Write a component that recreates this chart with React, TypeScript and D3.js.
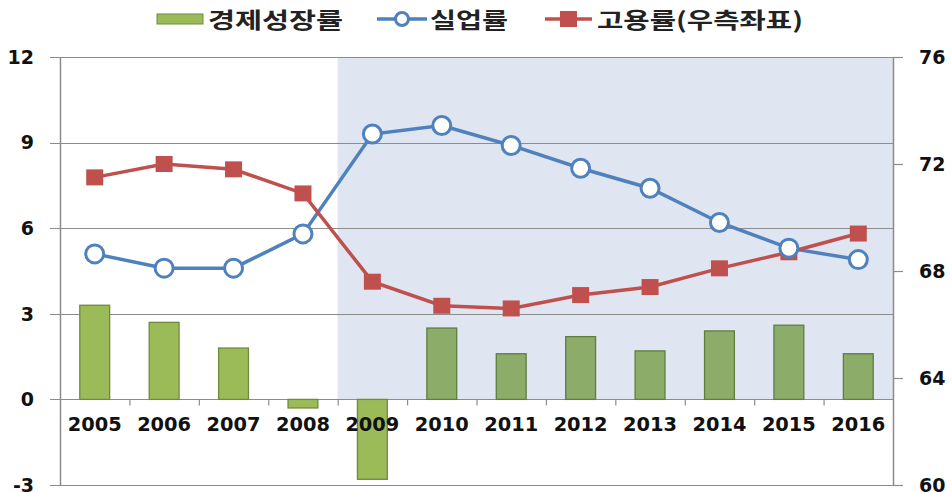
import React, { useEffect, useRef } from 'react';
import * as d3 from 'd3';

const years = ['2005', '2006', '2007', '2008', '2009', '2010', '2011', '2012', '2013', '2014', '2015', '2016'];
const growth = [3.3, 2.7, 1.8, -0.3, -2.8, 2.5, 1.6, 2.2, 1.7, 2.4, 2.6, 1.6];
const unemployment = [5.1, 4.6, 4.6, 5.8, 9.3, 9.6, 8.9, 8.1, 7.4, 6.2, 5.3, 4.9];
const employment = [71.5, 72.0, 71.8, 70.9, 67.6, 66.7, 66.6, 67.1, 67.4, 68.1, 68.7, 69.4];
const leftTicks = [-3, 0, 3, 6, 9, 12];
const rightTicks = [60, 64, 68, 72, 76];
const shadeFrom = '2009';
const legendLabels = ['경제성장률', '실업률', '고용률(우측좌표)'];

const W = 952;
const H = 492;
const margin = { top: 57, right: 59, bottom: 7, left: 60 };

const numFont = '"DejaVu Sans", Verdana, sans-serif';
const krFont = '"Noto Sans CJK KR", "Noto Sans", sans-serif';

const App = () => {
  const svgRef = useRef(null);

  useEffect(() => {
    const svg = d3.select(svgRef.current);
    svg.selectAll('*').remove();

    const x = d3.scaleBand().domain(years).range([margin.left, W - margin.right]).paddingInner(0.57).paddingOuter(0.285);
    const band = d3.scaleBand().domain(years).range([margin.left, W - margin.right]);
    const y = d3.scaleLinear().domain([-3, 12]).range([H - margin.bottom, margin.top]);
    const y2 = d3.scaleLinear().domain([60, 76]).range([H - margin.bottom, margin.top]);
    const cx = (d) => band(d) + band.bandwidth() / 2;

    // shaded period (2009~)
    svg.append('rect')
      .attr('x', band(shadeFrom))
      .attr('y', y(12))
      .attr('width', W - margin.right - band(shadeFrom))
      .attr('height', y(0) - y(12))
      .attr('fill', '#dfe6f1');

    // gridlines
    svg.append('g')
      .selectAll('line')
      .data(leftTicks)
      .join('line')
      .attr('x1', margin.left - 10)
      .attr('x2', W - margin.right)
      .attr('y1', d => Math.round(y(d)) + 0.5)
      .attr('y2', d => Math.round(y(d)) + 0.5)
      .attr('stroke', '#8c8c8c')
      .attr('stroke-width', 1.2);

    // bars
    const shadeIdx = years.indexOf(shadeFrom);
    svg.append('g')
      .selectAll('rect')
      .data(growth)
      .join('rect')
      .attr('x', (d, i) => x(years[i]))
      .attr('width', x.bandwidth())
      .attr('y', d => y(Math.max(0, d)))
      .attr('height', d => Math.abs(y(d) - y(0)))
      .attr('fill', (d, i) => (i >= shadeIdx && d > 0 ? '#8cad69' : '#9bbb59'))
      .attr('stroke', (d, i) => (i >= shadeIdx && d > 0 ? '#5e7d3f' : '#6f8a3c'))
      .attr('stroke-width', 1.3);

    // axes lines
    svg.append('line')
      .attr('x1', margin.left + 0.5).attr('x2', margin.left + 0.5)
      .attr('y1', y(12)).attr('y2', y(-3))
      .attr('stroke', '#8c8c8c').attr('stroke-width', 1.5);
    svg.append('line')
      .attr('x1', W - margin.right + 0.5).attr('x2', W - margin.right + 0.5)
      .attr('y1', y(12)).attr('y2', y(-3))
      .attr('stroke', '#8c8c8c').attr('stroke-width', 1.5);

    // right axis ticks
    svg.append('g')
      .selectAll('line')
      .data(rightTicks)
      .join('line')
      .attr('x1', W - margin.right)
      .attr('x2', W - margin.right + 10)
      .attr('y1', d => Math.round(y2(d)) + 0.5)
      .attr('y2', d => Math.round(y2(d)) + 0.5)
      .attr('stroke', '#8c8c8c')
      .attr('stroke-width', 1.2);

    // category ticks
    svg.append('g')
      .selectAll('line')
      .data(years.slice(1))
      .join('line')
      .attr('x1', d => band(d) + 0.5)
      .attr('x2', d => band(d) + 0.5)
      .attr('y1', y(0))
      .attr('y2', y(0) + 6)
      .attr('stroke', '#8c8c8c')
      .attr('stroke-width', 1.2);

    // tick labels
    svg.append('g')
      .selectAll('text')
      .data(leftTicks)
      .join('text')
      .attr('x', 34)
      .attr('y', d => y(d))
      .attr('dy', '0.36em')
      .attr('text-anchor', 'end')
      .style('font', `bold 19px ${numFont}`)
      .attr('fill', '#111')
      .text(d => d);

    svg.append('g')
      .selectAll('text')
      .data(rightTicks)
      .join('text')
      .attr('x', 919)
      .attr('y', d => y2(d))
      .attr('dy', '0.36em')
      .style('font', `bold 19px ${numFont}`)
      .attr('fill', '#111')
      .text(d => d);

    svg.append('g')
      .selectAll('text')
      .data(years)
      .join('text')
      .attr('x', d => cx(d))
      .attr('y', y(0) + 32)
      .attr('text-anchor', 'middle')
      .attr('textLength', 54)
      .attr('lengthAdjust', 'spacingAndGlyphs')
      .style('font', `bold 19px ${numFont}`)
      .attr('fill', '#111')
      .text(d => d);

    // unemployment line
    const line1 = d3.line().x((d, i) => cx(years[i])).y(d => y(d));
    svg.append('path')
      .attr('d', line1(unemployment))
      .attr('fill', 'none')
      .attr('stroke', '#4f81bd')
      .attr('stroke-width', 3.5);

    // employment line
    const line2 = d3.line().x((d, i) => cx(years[i])).y(d => y2(d));
    svg.append('path')
      .attr('d', line2(employment))
      .attr('fill', 'none')
      .attr('stroke', '#c0504d')
      .attr('stroke-width', 3.5);

    svg.append('g')
      .selectAll('rect')
      .data(employment)
      .join('rect')
      .attr('x', (d, i) => cx(years[i]) - 8.5)
      .attr('y', d => y2(d) - 8)
      .attr('width', 17)
      .attr('height', 16)
      .attr('fill', '#c0504d');

    svg.append('g')
      .selectAll('circle')
      .data(unemployment)
      .join('circle')
      .attr('cx', (d, i) => cx(years[i]))
      .attr('cy', d => y(d))
      .attr('r', 9)
      .attr('fill', '#fff')
      .attr('stroke', '#4f81bd')
      .attr('stroke-width', 3);

    // legend
    const lg = svg.append('g');
    lg.append('rect').attr('x', 157).attr('y', 14).attr('width', 46).attr('height', 10)
      .attr('fill', '#9bbb59').attr('stroke', '#6f8a3c').attr('stroke-width', 1);
    lg.append('line').attr('x1', 377).attr('x2', 427).attr('y1', 19).attr('y2', 19)
      .attr('stroke', '#4f81bd').attr('stroke-width', 3.5);
    lg.append('circle').attr('cx', 402).attr('cy', 19).attr('r', 6.5)
      .attr('fill', '#fff').attr('stroke', '#4f81bd').attr('stroke-width', 3);
    lg.append('line').attr('x1', 545).attr('x2', 592).attr('y1', 19).attr('y2', 19)
      .attr('stroke', '#c0504d').attr('stroke-width', 3.5);
    lg.append('rect').attr('x', 560).attr('y', 11).attr('width', 17).attr('height', 16)
      .attr('fill', '#c0504d');

    const legendPos = [{ x: 208, w: 135 }, { x: 430, w: 78 }, { x: 597, w: 206 }];
    lg.selectAll('text')
      .data(legendLabels)
      .join('text')
      .attr('x', (d, i) => legendPos[i].x)
      .attr('y', 28)
      .attr('textLength', (d, i) => legendPos[i].w)
      .attr('lengthAdjust', 'spacingAndGlyphs')
      .style('font', `bold 22px ${krFont}`)
      .attr('fill', '#222')
      .text(d => d);
  }, []);

  return (
    <div style={{ position: 'absolute', left: 0, top: 0 }}>
      <svg ref={svgRef} width={W} height={H} style={{ display: 'block', background: '#fff' }} />
    </div>
  );
};

export default App;
